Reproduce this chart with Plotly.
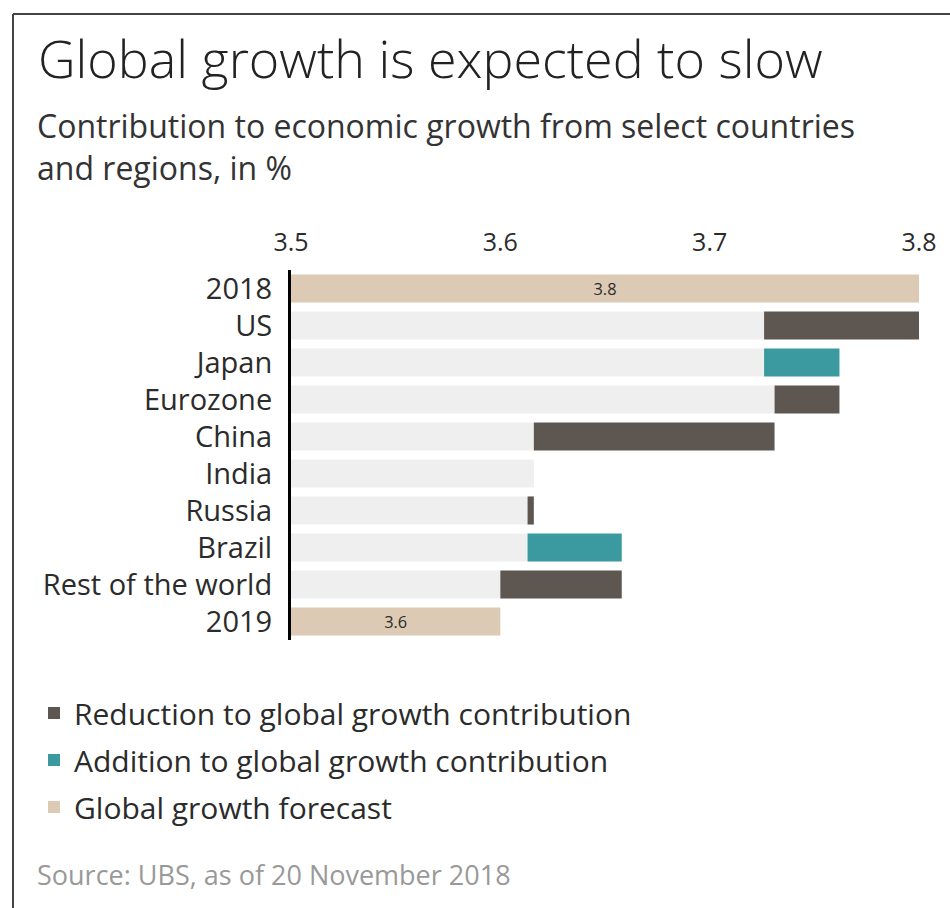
import plotly.graph_objects as go

# ---------------- data ----------------
categories = ["2018", "US", "Japan", "Eurozone", "China", "India",
              "Russia", "Brazil", "Rest of the world", "2019"]
start_value = 3.8
end_value = 3.6
country_changes = [-0.074, 0.036, -0.031, -0.115, 0.0, -0.003, 0.045, -0.058]
axis_min = 3.5
tick_values = [3.5, 3.6, 3.7, 3.8]
tick_labels = ["3.5", "3.6", "3.7", "3.8"]
legend_names = ["Reduction to global growth contribution",
                "Addition to global growth contribution",
                "Global growth forecast"]

# ---------------- styling ----------------
C_RED = "#5e5650"
C_ADD = "#3a9aa0"
C_FC = "#dccab4"
C_BASE = "#efefef"
C_TEXT = "#2b2b2b"
FONT = "Open Sans"

W, H = 950, 908
PL, PR = 291, 919      # plot area left/right in px
PT, PB = 270, 640      # plot area top/bottom in px

def px_x(p):
    return (p - PL) / (PR - PL)

def px_y(p):
    return (PB - p) / (PB - PT)

# ---------------- derived waterfall ----------------
country_cats = categories[1:-1]
levels = [start_value]
for c in country_changes:
    levels.append(levels[-1] + c)

base_cats, base_len = [], []
red_cats, red_base, red_len = [], [], []
add_cats, add_base, add_len = [], [], []
for i, cat in enumerate(country_cats):
    a, b = levels[i], levels[i + 1]
    lo, hi = min(a, b), max(a, b)
    base_cats.append(cat)
    base_len.append(lo - axis_min)
    if b < a:
        red_cats.append(cat); red_base.append(lo); red_len.append(hi - lo)
    elif b > a:
        add_cats.append(cat); add_base.append(lo); add_len.append(hi - lo)

fig = go.Figure()

fig.add_trace(go.Bar(
    y=base_cats, x=base_len, base=[axis_min] * len(base_cats), orientation="h",
    marker=dict(color=C_BASE, line=dict(width=0)), showlegend=False, hoverinfo="skip"))

fig.add_trace(go.Bar(
    y=red_cats, x=red_len, base=red_base, orientation="h", name=legend_names[0],
    legendgroup="a", marker=dict(color=C_RED, line=dict(width=0))))

fig.add_trace(go.Bar(
    y=add_cats, x=add_len, base=add_base, orientation="h", name=legend_names[1],
    legendgroup="b", marker=dict(color=C_ADD, line=dict(width=0))))

fc_cats = [categories[0], categories[-1]]
fc_vals = [start_value, end_value]
fig.add_trace(go.Bar(
    y=fc_cats, x=[v - axis_min for v in fc_vals], base=[axis_min] * 2, orientation="h",
    name=legend_names[2], legendgroup="c",
    text=[f"{v:.1f}" for v in fc_vals], textposition="inside", insidetextanchor="middle",
    textfont=dict(family=FONT, size=20, color=C_TEXT),
    marker=dict(color=C_FC, line=dict(width=0))))

fig.update_layout(
    width=W, height=H,
    margin=dict(l=PL, r=W - PR, t=PT, b=H - PB, pad=0, autoexpand=False),
    paper_bgcolor="white", plot_bgcolor="white",
    barmode="overlay", bargap=0.24,
    font=dict(family=FONT, color=C_TEXT),
    legend=dict(
        xref="container", yref="container", x=34 / W, y=1 - 687 / H,
        xanchor="left", yanchor="top",
        font=dict(family=FONT, size=30, color=C_TEXT),
        traceorder="grouped", tracegroupgap=5,
        itemsizing="constant", bgcolor="rgba(0,0,0,0)",
    ),
    xaxis=dict(
        side="top", range=[axis_min, 3.8], tickvals=tick_values, ticktext=tick_labels,
        showgrid=False, zeroline=False, showline=False, ticks="",
        tickfont=dict(family=FONT, size=25, color=C_TEXT), ticklabelstandoff=13,
        fixedrange=True, automargin=False,
    ),
    yaxis=dict(
        categoryorder="array", categoryarray=categories, autorange="reversed",
        showgrid=False, zeroline=False, showline=True, linecolor="black", linewidth=3,
        ticks="", tickfont=dict(family=FONT, size=29, color=C_TEXT), ticklabelstandoff=10,
        fixedrange=True, automargin=False,
    ),
    shapes=[
        dict(type="line", xref="paper", yref="paper", x0=px_x(13), x1=px_x(950),
             y0=px_y(14), y1=px_y(14), line=dict(color="#444", width=2)),
        dict(type="line", xref="paper", yref="paper", x0=px_x(13), x1=px_x(13),
             y0=px_y(14), y1=px_y(912), line=dict(color="#444", width=2)),
    ],
    annotations=[
        dict(text="Global growth is expected to slow", xref="paper", yref="paper",
             x=px_x(36), y=px_y(57), xanchor="left", yanchor="middle", showarrow=False,
             font=dict(family=FONT, size=52, color="#222", weight=300)),
        dict(text="Contribution to economic growth from select countries<br>and regions, in %",
             xref="paper", yref="paper", x=px_x(35), y=px_y(146), xanchor="left",
             yanchor="middle", align="left", showarrow=False,
             font=dict(family=FONT, size=32, color="#333")),
        dict(text="Source: UBS, as of 20 November 2018", xref="paper", yref="paper",
             x=px_x(35), y=px_y(874), xanchor="left", yanchor="middle", showarrow=False,
             font=dict(family=FONT, size=27, color="#999")),
    ],
)

fig.write_html("out.html")
